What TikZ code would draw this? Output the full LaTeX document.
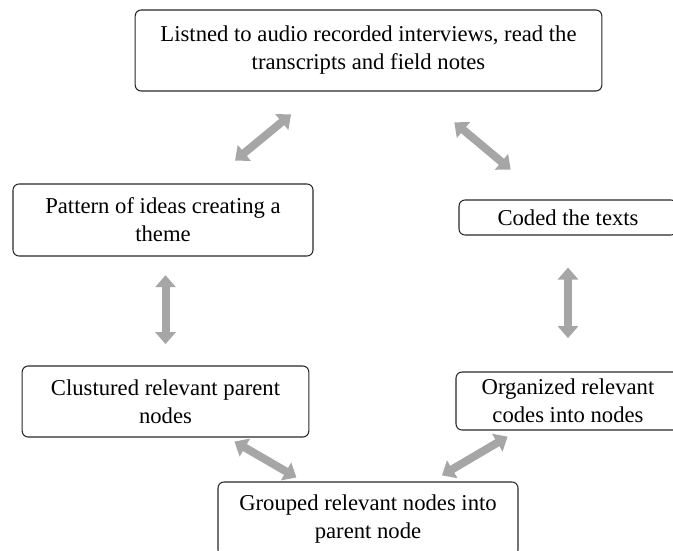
\documentclass[tikz,border=0pt]{standalone}
\usepackage{fontspec}
\setmainfont{Liberation Serif}
\usepackage{tikz}
\usetikzlibrary{arrows.meta}
\definecolor{LinkGray}{RGB}{166, 166, 166}
\definecolor{BoxLine}{RGB}{40, 40, 40}

\begin{document}
\begin{tikzpicture}[x=0.75pt, y=0.75pt,
  font=\fontsize{17}{21}\selectfont,
  box/.style={draw=BoxLine, line width=0.8pt, rounded corners=4.5pt, fill=white,
              align=center, inner sep=2pt},
  link/.style={{Triangle[width=15pt,length=9pt]}-{Triangle[width=15pt,length=9pt]},
               draw=LinkGray, line width=6pt}]
  \useasboundingbox (0,0) rectangle (673,550);

  \node[box, minimum width=350pt, minimum height=60.75pt] (listen) at (368.5,499.5)
    {Listned to audio recorded interviews, read the\\transcripts and field notes};
  \node[box, minimum width=163.5pt, minimum height=26.25pt] (coded) at (568,332.5) {Coded the texts};
  \node[box, minimum width=225pt, minimum height=54pt] (pattern) at (163,330)
    {Pattern of ideas creating a\\theme};
  \node[box, minimum width=215pt, minimum height=53.25pt] (cluster) at (165.5,148.5)
    {Clustured relevant parent\\nodes};
  \node[box, minimum width=168pt, minimum height=43.5pt] (organize) at (568,149)
    {Organized relevant\\codes into nodes};
  \node[box, minimum width=225pt, minimum height=55.5pt] (group) at (368,31)
    {Grouped relevant nodes into\\parent node};

  % two-way links round the cycle
  \draw[link, shorten <=27pt, shorten >=27pt] (pattern) -- (listen);
  \draw[link, shorten <=36pt, shorten >=35pt] (listen) -- (coded);
  \draw[link, shorten <=24pt, shorten >=25pt] (coded.south) -- (coded.south |- organize.north);
  \draw[link, shorten <=9pt, shorten >=9pt] (organize) -- (group);
  \draw[link, shorten <=6pt, shorten >=6pt] (group) -- (cluster);
  \draw[link, shorten <=16pt, shorten >=14pt] (cluster.north) -- (cluster.north |- pattern.south);
\end{tikzpicture}
\end{document}
